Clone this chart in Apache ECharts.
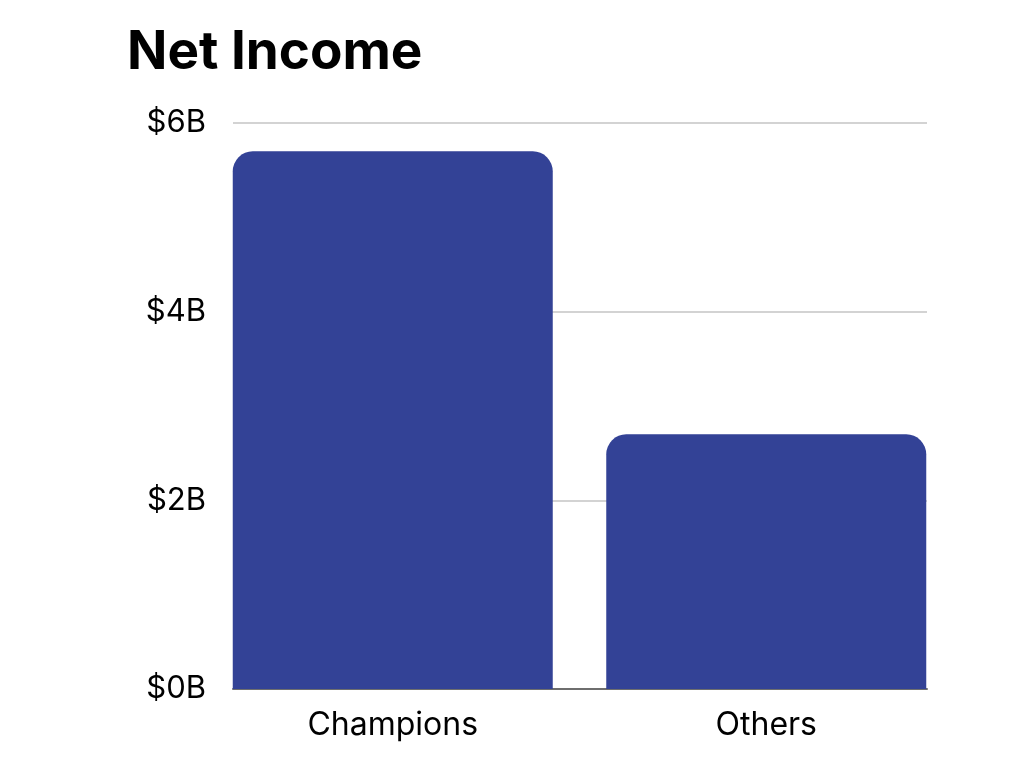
<!DOCTYPE html>
<html><head><meta charset="utf-8">
<script src="https://cdn.jsdelivr.net/npm/echarts@6/dist/echarts.min.js"></script>
<style>html,body{margin:0;padding:0;background:#fff}#c{width:1024px;height:768px}</style>
</head><body><div id="c"></div>
<script>
const title = 'Net Income';
const categories = ['Champions', 'Others'];
const netIncome = [5.7, 2.7];
const yTicks = [0, 2, 4, 6];

const chart = echarts.init(document.getElementById('c'));
const font = 'Inter, "Noto Sans", sans-serif';
chart.setOption({
  animation: false,
  title: { text: title, left: 122, top: 22, textStyle: { fontFamily: font, fontSize: 53, fontWeight: 'bold', color: '#000' } },
  grid: [
    { left: 206, right: 71, top: 123, bottom: 79 },
    { left: 233, right: 97, top: 123, bottom: 79 }
  ],
  xAxis: [
    { gridIndex: 0, type: 'category', data: categories, axisLine: { show: false }, axisTick: { show: false },
      axisLabel: { margin: 20, fontFamily: font, fontSize: 32, color: '#000' } },
    { gridIndex: 1, type: 'category', data: categories, axisLine: { show: true, lineStyle: { color: '#6e6e6e', width: 2 } },
      axisTick: { show: false }, axisLabel: { show: false } }
  ],
  yAxis: [
    { gridIndex: 0, type: 'value', min: 0, max: 6, interval: 2, show: false, splitLine: { show: false } },
    { gridIndex: 1, type: 'value', min: 0, max: 6, interval: 2,
      axisLine: { show: false }, axisTick: { show: false },
      splitLine: { lineStyle: { color: '#c4c4c4', width: 1.5 } },
      axisLabel: { margin: 27, fontFamily: font, fontSize: 31, color: '#000', padding: [4, 0, 0, 0],
        formatter: v => yTicks.includes(v) ? '$' + v + 'B' : '' } }
  ],
  series: [{
    type: 'bar', xAxisIndex: 0, yAxisIndex: 0, data: netIncome, barWidth: 320, z: 5,
    itemStyle: { color: '#334296', borderRadius: [20, 20, 0, 0] }
  }]
});
</script></body></html>
